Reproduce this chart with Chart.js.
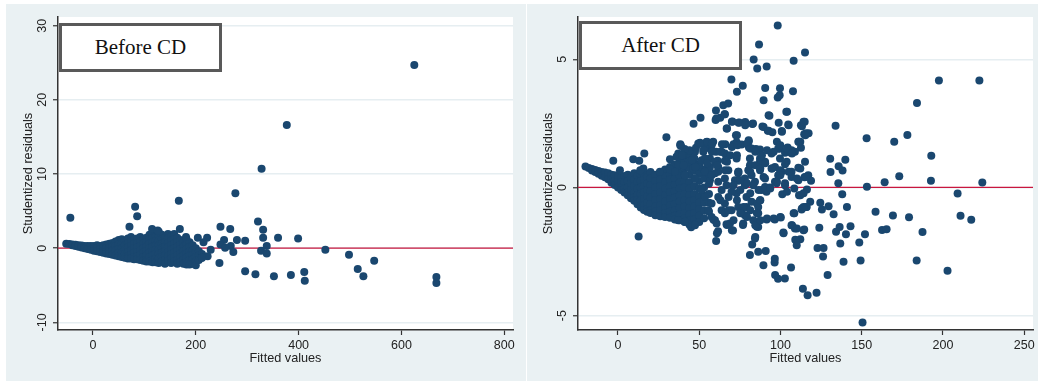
<!doctype html>
<html>
<head>
<meta charset="utf-8">
<title>Studentized residuals before and after CD</title>
<script src="https://cdn.jsdelivr.net/npm/chart.js@4/dist/chart.umd.min.js"></script>
<style>
  body { margin:0; background:#fff; width:1040px; height:383px; position:relative; overflow:hidden; }
  .panel { position:absolute; top:4px; height:377px; background:#eaf1f3; }
  .panel canvas { position:absolute; left:0; top:0; }
  .tag { position:absolute; width:157px; height:43px; border:3px solid #595959; background:#fff;
         font:21px "Liberation Serif", "Times New Roman", serif; color:#111; text-align:center; line-height:43px; }
</style>
</head>
<body>
<div class="panel" style="left:6px;width:520px">
  <canvas id="before" width="520" height="377"></canvas>
  <div class="tag" style="left:53px;top:19px">Before CD</div>
</div>
<div class="panel" style="left:527px;width:511px">
  <canvas id="after" width="511" height="377"></canvas>
  <div class="tag" style="left:52px;top:17px">After CD</div>
</div>
<script>
// ---- Before CD: fitted values vs studentized residuals ----
// dense wedge, read column by column (x, then the y values stacked in that column)
var beforeWedgeX = [-52,-46,-40,-34,-28,-22,-16,-10,-4,2,8,14,20,26,32,38,44,50,56,62,68,74,80,86,92,98,104,110,116,122,128,134,140,146,152,158,164,170,176,182,188,194,200,206,212];
var beforeWedgeY = [
  [0.6],[0.55],[0.5,0.4],[0.45,0.3],[0.4,0.2],[0.35,0.1],[0.3,0.0],[0.3,-0.1],[0.3,-0.2],
  [0.3,-0.1,-0.35],[0.4,0.0,-0.4],[0.3,-0.1,-0.5],[0.4,0.0,-0.4,-0.6],[0.5,0.0,-0.45,-0.7],
  [0.6,0.1,-0.4,-0.8],[0.7,0.2,-0.3,-0.9],[0.9,0.3,-0.3,-1.0],[1.1,0.5,-0.1,-0.6,-1.1],
  [1.2,0.6,0.0,-0.6,-1.2],[1.0,0.4,-0.2,-0.8,-1.3],[1.3,0.7,0.1,-0.5,-1.1,-1.4],
  [1.5,0.9,0.3,-0.3,-0.9,-1.4],[1.2,0.6,0.0,-0.6,-1.2,-1.5],[1.3,0.7,0.1,-0.5,-1.1,-1.5],
  [1.5,0.9,0.3,-0.3,-0.9,-1.6],[1.2,0.6,0.0,-0.6,-1.2,-1.7],[1.4,0.8,0.2,-0.4,-1.0,-1.6,-1.8],
  [1.8,1.2,0.6,0.0,-0.6,-1.2,-1.8],[2.0,1.4,0.8,0.2,-0.4,-1.0,-1.6,-1.9],[1.6,1.0,0.4,-0.2,-0.8,-1.4,-1.9],
  [2.2,1.6,1.0,0.4,-0.2,-0.8,-1.4,-2.0],[1.8,1.2,0.6,0.0,-0.6,-1.2,-1.8],[1.4,0.8,0.2,-0.4,-1.0,-1.6,-2.1],
  [1.9,1.3,0.7,0.1,-0.5,-1.1,-1.7],[1.6,1.0,0.4,-0.2,-0.8,-1.4,-2.0],[1.9,1.2,0.6,0.0,-0.6,-1.2,-1.8],
  [1.4,0.8,0.2,-0.4,-1.0,-1.6,-2.1],[1.1,0.5,-0.1,-0.7,-1.3,-1.9],[0.8,0.2,-0.4,-1.0,-1.6,-2.1],
  [1.2,0.5,-0.1,-0.7,-1.3,-1.9,-2.2],[0.8,0.2,-0.4,-1.0,-1.6,-2.2],[0.4,-0.3,-0.9,-1.5,-2.1],
  [0.0,-0.6,-1.2,-1.8,-2.3],[-0.4,-1.0,-1.6],[-0.8,-1.3]
];
// scattered points outside the wedge [x, y]
var beforeScatter = [
  [625,24.7],[377,16.6],[328,10.7],[277,7.4],[167,6.4],[82,5.6],[86,4.3],[-44,4.1],[71,2.9],
  [115,2.6],[126,2.4],[169,2.6],[248,2.9],[267,2.6],[321,3.6],[331,2.5],[331,1.4],[360,1.4],
  [399,1.3],[296,1.0],[280,1.1],[255,1.1],[222,1.4],[204,1.4],[181,1.5],[215,0.8],[248,0.5],
  [268,0.3],[257,0.05],[338,0.3],[327,-0.35],[338,-0.7],[273,-0.5],[452,-0.2],[498,-0.9],
  [547,-1.7],[515,-2.8],[526,-3.8],[246,-2.0],[296,-3.1],[316,-3.5],[352,-3.8],[385,-3.6],
  [411,-3.2],[412,-4.4],[668,-3.9],[668,-4.7],[229,-0.2],[223,-1.1],[212,-1.3]
];
var beforeXTicks = [0, 200, 400, 600, 800];
var beforeYTicks = [-10, 0, 10, 20, 30];

// ---- After CD ----
var afterWedgeX = [-20,-18,-16,-14,-12,-10,-8,-6,-4,-2,0,2,4,6,8,10,12,14,16,18,20,23,26,29,32,35,38,41,44,47,50,53,56];
var afterWedgeY = [
  [0.82],[0.76],[0.72,0.66],[0.68,0.6],[0.64,0.54],[0.6,0.46],[0.58,0.4],[0.55,0.32],
  [0.5,0.3,0.18],[0.48,0.25,0.1],[0.45,0.22,0.0],[0.4,0.2,0,-0.1],[0.45,0.2,-0.05,-0.2],
  [0.5,0.25,0,-0.2,-0.3],[0.4,0.15,-0.1,-0.3,-0.42],[0.55,0.3,0.05,-0.2,-0.4,-0.52],
  [0.45,0.2,-0.05,-0.3,-0.5,-0.65],[0.5,0.25,0,-0.25,-0.5,-0.7,-0.78],
  [0.55,0.3,0.05,-0.2,-0.45,-0.7,-0.88],[0.4,0.15,-0.1,-0.35,-0.6,-0.85,-0.95],
  [0.6,0.35,0.1,-0.15,-0.4,-0.65,-0.9,-1.0],[0.5,0.25,0,-0.25,-0.5,-0.75,-0.95,-1.08],
  [0.55,0.3,0.05,-0.2,-0.45,-0.7,-0.9,-1.12],[0.7,0.45,0.2,-0.05,-0.3,-0.55,-0.8,-1.0,-1.15],
  [0.8,0.55,0.3,0.05,-0.2,-0.45,-0.7,-0.95,-1.18],[0.9,0.6,0.35,0.1,-0.15,-0.4,-0.65,-0.9,-1.1,-1.25],
  [1.0,0.7,0.45,0.2,-0.05,-0.3,-0.55,-0.8,-1.05,-1.28],[1.05,0.75,0.5,0.25,0,-0.25,-0.5,-0.75,-1.0,-1.2,-1.35],
  [1.1,0.8,0.5,0.2,-0.05,-0.3,-0.55,-0.8,-1.05,-1.3,-1.45],[0.95,0.65,0.35,0.05,-0.25,-0.5,-0.75,-1.0,-1.25,-1.45],
  [0.85,0.55,0.25,-0.05,-0.35,-0.6,-0.85,-1.1,-1.35],[0.7,0.35,0,-0.3,-0.6,-0.9,-1.2],[0.55,0.15,-0.25,-0.6,-0.95]
];
var afterScatter = [
  [98.3,6.32],[86.8,5.58],[115.1,5.27],[83.5,4.99],[108.1,4.94],[85.7,4.64],[91.5,4.72],[69.8,4.21],
  [76.8,3.97],[73.2,3.73],[90.6,3.88],[99.7,3.87],[107.7,3.75],[89.6,3.40],[98.3,3.51],[99.5,3.60],
  [197.5,4.17],[222.4,4.17],[184,3.30],[64.8,3.21],[67.8,3.28],[60.3,3.0],[65.8,2.86],[62.9,2.72],
  [60.1,2.63],[50.8,2.72],[46.5,2.49],[103.6,2.95],[93.2,2.80],[98.9,2.52],[104.8,2.46],[114.9,2.56],
  [113.2,2.39],[82.7,2.48],[78.3,2.55],[74.6,2.53],[70.4,2.57],[66.9,2.30],[88.9,2.38],[92.2,2.21],
  [95,2.15],[100.8,2.2],[112.6,2.43],[115.7,2.12],[117.3,2.12],[114.6,2.08],[133.9,2.41],
  [72.6,2.04],[29.8,1.96],[153,1.92],[178.1,2.05],[170,1.78],[80.5,1.80],[76.1,1.68],[73,1.76],
  [66,1.69],[71.1,1.69],[50.5,1.74],[54.5,1.77],[58.6,1.78],[38.8,1.62],[97.8,1.78],[111.1,1.78],
  [112.2,1.78],[104.4,1.56],[106.8,1.45],[112.6,1.55],[99.3,1.51],[84.9,1.5],[80.6,1.56],
  [52.5,1.39],[56.6,1.52],[60.3,1.39],[63.8,1.39],[65.8,1.33],[82.2,1.52],[87.4,1.48],[94.5,1.33],
  [98.6,1.52],[102.8,1.35],[108.9,1.39],[106.5,1.35],
  [39.6,1.26],[47,1.13],[51.5,1.06],[56.6,1.13],[61.3,1.04],[65.8,1.04],[73,1.13],[81.2,1.13],
  [87.4,1.13],[90.5,1.0],[99.7,1.13],[103.8,1.0],[111,0.77],[115.1,1.0],
  [-2.9,1.04],[9.4,1.1],[13.1,1.04],[16.2,1.33],[1.2,0.67],[15.6,0.74],[25.8,0.61],[32,0.71],[13.7,0.67],
  [43.3,0.8],[49.4,0.8],[56.6,0.8],[61.7,0.61],[67.9,0.67],[74,0.61],[80.2,0.67],[87.4,0.67],
  [94.5,0.74],[100.7,0.61],[106.8,0.61],[117.1,0.48],
  [72,0.28],[78.1,0.35],[84.3,0.22],[90.5,0.35],[96.6,0.22],[102.8,0.16],[111,0.28],
  [192.8,1.24],[130.6,1.12],[139.9,1.08],[135.8,0.83],[138.2,0.66],[130.8,0.6],[114.8,0.4],
  [118.8,0.26],[112.2,0.74],
  [135.6,0.16],[138,-0.26],[153.2,0.03],[164.1,0.2],[173.1,0.44],[192.6,0.26],[224.2,0.19],[209,-0.24],
  [116.3,-0.08],[112.2,-0.3],[118.3,-0.56],[113.2,-0.82],[115.9,-0.76],
  [124.5,-0.6],[125.5,-0.86],[129.6,-0.73],[132.7,-1.04],[140.9,-0.76],
  [158.5,-0.95],[169.2,-1.09],[179.1,-1.16],[210.8,-1.1],[217.4,-1.26],[187.4,-1.74],
  [114.6,-1.64],[123.9,-1.57],[134.2,-1.73],[136.4,-1.54],[140.3,-1.82],[143.1,-1.51],[152,-1.82],
  [162.5,-1.66],[165.3,-1.63],
  [112.2,-2.02],[122.8,-2.36],[126.5,-2.36],[126.2,-2.69],[136.8,-2.19],[148.5,-2.15],
  [138.8,-2.9],[149.3,-2.85],[183.8,-2.85],[202.8,-3.25],[129,-3.41],
  [113.8,-3.95],[116.7,-4.2],[122.2,-4.11],[150.5,-5.27],
  [106.5,-3.12],[102.7,-3.55],[98.5,-3.56],[96.7,-3.41],[96.4,-2.93],[96.5,-2.78],[89.5,-3.03],
  [90.9,-2.48],[86.3,-2.51],[81.2,-2.63],[82.6,-2.22],[84.3,-1.99],[85.5,-1.53],[86.3,-1.54],
  [85.3,-1.47],[83.3,-1.28],
  [100.2,-1.17],[96.5,-1.25],[91.5,-1.25],[101.8,-1.76],[109.1,-2.04],[110,-2.25],[106.8,-1.47],
  [108.9,-1.6],[108.5,-1.01],[113,-0.86],[116.1,-0.76],[111.4,-0.3],[101.1,-0.26],[108.5,-0.04],
  [70.8,-1.68],[67.1,-1.46],[61.6,-1.71],[60.4,-2.09],[76.9,-1.46],[77.1,-1.41],[58.8,-1.26],
  [12.7,-1.91],[45,-1.55],[47.4,-1.47],[37.1,-1.28],[41.2,-1.34],
  [57.6,-1.15],[59.7,-1.28],[60.7,-1.41],[63.8,-0.89],[65.8,-1.01],[69.9,-0.89],[66.8,-1.43],[68.9,-1.41],
  [74,-0.76],[76.1,-0.89],[78.1,-1.08],[79.1,-0.76],[82.2,-0.56],[86.3,-0.76],[86.3,-1.01],
  [90.5,0.02],[93.5,0],[97.6,0.16],[102.8,0.09],[98.6,0.48],[106.8,0.41],
  [82.2,0.48],[83.3,0.09],[88.4,-0.1],[91.4,-0.17],[87.4,-0.5],[79.1,-0.37],[73,-0.23],[69.9,-0.17],
  [78.1,0.09],[74,0.26],
  [65.8,-0.63],[61.7,-0.37],[63.8,-0.1],[66.8,0.09],[57.6,-0.63],[55.6,-0.89],[53.5,-0.37],[51.4,-0.1],
  [56.6,0.28],[59.7,0.55],[61.7,0.8],
  [74,0.55],[81.2,0.87],[87.4,1.0],[96.6,0.8],[102.8,0.91],[99.7,0.67],
  [49.4,1.72],[53.5,1.58],[57.6,1.65],[47.4,1.39],[43.3,1.26],[37.1,1.33],[53.5,1.13],[59.7,1.0],
  [43.3,1.0],[46.3,0.74],[37.1,0.87],[35.1,0.61],[41.2,0.48],[47.4,0.35],[53.5,0.61],[57.6,0.48],
  [65.8,0.35],[61.7,0.22],[38.4,1.69],[40,1.26],[46.6,1.15],
  [44,1.45],[48,1.55],[36,1.2],[41,1.5],[32,1.1],
  [60.5,2.69],[65.6,2.86],[70.1,2.56],[74.2,2.52],[78.3,2.43],[83.1,2.5],[92.7,2.82],[104,2.95],
  [89.6,2.36],[92.7,2.21],[100.9,2.17],[105,2.43],[114.2,2.56],[67.1,2.3],[73.2,2.04],[80.4,1.84],[79.4,1.71],
  [50.6,1.71],[54.8,1.78],[57.8,1.71],[64,1.69],[70.1,1.58],[73.6,1.65],
  [38.3,1.65],[39.4,1.26],[52.7,1.45],[57.8,1.39],[63,1.39],[69.1,1.26],[73.2,1.26],
  [81.4,1.52],[84.5,1.39],[88.6,1.26],[91.7,1.45],[95.8,1.39],[99.9,1.65],[104,1.52],[107.1,1.33],
  [111.1,1.78],[115.3,2.04],
  [40.4,0.87],[45.5,1.06],[47.6,0.8],[54.8,0.94],[60.9,0.87],[67.1,1.0],[66,0.67],
  [74.2,0.61],[75.3,0.28],[81.4,0.61],[84.5,0.87],[87.6,0.74],[89.6,0.41],[90.6,0.94],[94.8,0.74],
  [97.8,0.22],[99.9,0.48],[105,0.61],[110.1,0.35],[115.3,0.41],
  [71.1,0.09],[75.3,-0.1],[79.4,0.16],[81.4,-0.23],[86.5,-0.1],[90.6,-0.04],[93.7,-0.04],[104,-0.17],[114.2,-0.23],
  [63,-0.5],[68.1,-0.37],[73.2,-0.5],[77.3,-0.76],[81.4,-0.89],[85.5,-0.63],[87.6,-0.5],[68.1,-0.89],
  [71.1,-1.28],[75.3,-1.01],[79.4,-1.15],[85.5,-1.01],[84.5,-1.47],[87.6,-1.28],[91.7,-1.21],[95.8,-1.21],
  [99.9,-1.15],[108.1,-1.01],[114.2,-0.76],[107.1,-1.47],[110.1,-1.6],[114.2,-1.67],[60.9,-1.79],
  [70.1,-1.67],[84.5,-1.93],[101.9,-1.79]
];
var afterXTicks = [0, 50, 100, 150, 200, 250];
var afterYTicks = [-5, 0, 5];

var refLine = 0;
var navy = '#1a476f';
var sans = 'Liberation Sans';

function toPoints(wx, wy, scatter) {
  var pts = [];
  wx.forEach(function (x, i) {
    wy[i].forEach(function (y) { pts.push({x: x, y: y}); });
  });
  scatter.forEach(function (p) { pts.push({x: p[0], y: p[1]}); });
  return pts;
}

var plotBackground = {
  id: 'plotBackground',
  beforeDraw: function (chart) {
    var a = chart.chartArea, ctx = chart.ctx;
    ctx.save();
    ctx.fillStyle = '#ffffff';
    ctx.fillRect(a.left, a.top, a.right - a.left, a.bottom - a.top);
    ctx.restore();
  }
};

var zeroLine = {
  id: 'zeroLine',
  beforeDatasetsDraw: function (chart) {
    var a = chart.chartArea, ctx = chart.ctx;
    var y = chart.scales.y.getPixelForValue(refLine);
    ctx.save();
    ctx.strokeStyle = '#c8173f';
    ctx.lineWidth = 1.3;
    ctx.beginPath();
    ctx.moveTo(a.left, y);
    ctx.lineTo(a.right, y);
    ctx.stroke();
    ctx.restore();
  }
};

function residualChart(id, pts, o) {
  return new Chart(document.getElementById(id), {
    type: 'scatter',
    data: { datasets: [{ data: pts, backgroundColor: navy, borderWidth: 0,
                         pointRadius: 4, pointHoverRadius: 4 }] },
    options: {
      responsive: false,
      animation: false,
      layout: { padding: { left: 0, top: 13, right: o.padRight, bottom: 0 } },
      plugins: { legend: { display: false }, tooltip: { enabled: false } },
      scales: {
        x: {
          type: 'linear', min: o.xMin, max: o.xMax,
          afterBuildTicks: function (s) { s.ticks = o.xTicks.map(function (v) { return {value: v}; }); },
          afterFit: function (s) { s.height = 51; },
          grid: { drawOnChartArea: false, tickLength: 5, tickColor: '#333', tickWidth: 1.2 },
          border: { color: '#333', width: 1.5 },
          ticks: { color: '#222', font: { family: sans, size: 12.5 }, padding: 3, maxRotation: 0, autoSkip: false },
          title: { display: true, text: 'Fitted values', color: '#222',
                   font: { family: sans, size: 12.7 }, padding: { top: 0, bottom: 15 } }
        },
        y: {
          type: 'linear', min: o.yMin, max: o.yMax,
          afterBuildTicks: function (s) { s.ticks = o.yTicks.map(function (v) { return {value: v}; }); },
          afterFit: function (s) { s.width = o.yWidth; },
          grid: { color: '#e6eef1', lineWidth: 1.5, tickLength: 5, tickColor: '#333', tickWidth: 1.2 },
          border: { color: '#333', width: 1.5 },
          ticks: { color: '#222', font: { family: sans, size: 12.5 }, padding: o.yPad,
                   minRotation: 90, maxRotation: 90, crossAlign: 'center', autoSkip: false },
          title: { display: true, text: 'Studentized residuals', color: '#222',
                   font: { family: sans, size: 12.7 }, padding: { top: o.yTitlePad, bottom: 0 } }
        }
      }
    },
    plugins: [plotBackground, zeroLine]
  });
}

residualChart('before', toPoints(beforeWedgeX, beforeWedgeY, beforeScatter), {
  xMin: -68, xMax: 817, yMin: -11.03, yMax: 31.17,
  xTicks: beforeXTicks, yTicks: beforeYTicks,
  padRight: 13, yWidth: 52, yPad: 1.7, yTitlePad: 14.4
});
residualChart('after', toPoints(afterWedgeX, afterWedgeY, afterScatter), {
  xMin: -24.6, xMax: 255.4, yMin: -5.56, yMax: 6.65,
  xTicks: afterXTicks, yTicks: afterYTicks,
  padRight: 5, yWidth: 51, yPad: 5.1, yTitlePad: 13.4
});
</script>
</body>
</html>
